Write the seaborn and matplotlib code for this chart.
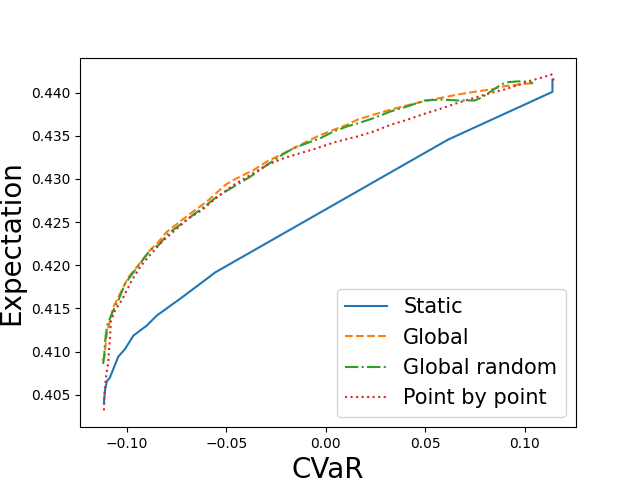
import numpy as np
import pandas as pd
import matplotlib
matplotlib.use("Agg")
import matplotlib.pyplot as plt
import seaborn as sns

# ---- data ----
static_x = [-0.1114, -0.1109, -0.1100, -0.1084, -0.1067, -0.1042, -0.1008, -0.0966,
            -0.0899, -0.0848, -0.0731, -0.0630, -0.0554, 0.0613, 0.1139, 0.1139]
static_y = [0.40410, 0.40547, 0.40655, 0.40701, 0.40799, 0.40942, 0.41031, 0.41186,
            0.41302, 0.41419, 0.41613, 0.41787, 0.41919, 0.43453, 0.44008, 0.44151]

global_x = [-0.1121, -0.1112, -0.1100, -0.1067, -0.1033, -0.0991, -0.0941, -0.0891,
            -0.0840, -0.0798, -0.0722, -0.0655, -0.0588, -0.0504, -0.0462, -0.0361,
            -0.0294, -0.0210, -0.0126, -0.0042, 0.0042, 0.0109, 0.0160, 0.0243,
            0.0328, 0.0412, 0.0495, 0.0580, 0.0664, 0.0747, 0.0832, 0.0899,
            0.0949, 0.0999, 0.1033]
global_y = [0.40895, 0.40934, 0.41206, 0.41515, 0.41671, 0.41864, 0.42000, 0.42155,
            0.42271, 0.42388, 0.42524, 0.42640, 0.42756, 0.42931, 0.42989, 0.43105,
            0.43202, 0.43299, 0.43396, 0.43492, 0.43570, 0.43628, 0.43687, 0.43745,
            0.43803, 0.43853, 0.43899, 0.43939, 0.43977, 0.44009, 0.44036, 0.44074,
            0.44086, 0.44102, 0.44105]

grand_x = [-0.1118, -0.1112, -0.1109, -0.1104, -0.1095, -0.1067, -0.1042, -0.1008,
           -0.0958, -0.0907, -0.0882, -0.0840, -0.0790, -0.0722, -0.0655, -0.0588,
           -0.0546, -0.0462, -0.0378, -0.0294, -0.0218, -0.0160, -0.0092, -0.0025,
           0.0042, 0.0109, 0.0168, 0.0243, 0.0328, 0.0412, 0.0495, 0.0580,
           0.0664, 0.0747, 0.0781, 0.0832, 0.0882, 0.0916, 0.0983, 0.1025, 0.1042]
grand_y = [0.40857, 0.40973, 0.41090, 0.41206, 0.41322, 0.41477, 0.41593, 0.41787,
           0.41942, 0.42097, 0.42175, 0.42233, 0.42369, 0.42485, 0.42602, 0.42718,
           0.42795, 0.42911, 0.43027, 0.43163, 0.43280, 0.43357, 0.43416, 0.43474,
           0.43551, 0.43609, 0.43648, 0.43706, 0.43783, 0.43841, 0.43908, 0.43919,
           0.43908, 0.43908, 0.43939, 0.44016, 0.44094, 0.44120, 0.44132, 0.44120, 0.44105]

pbp_x = [-0.1114, -0.1112, -0.1109, -0.1105, -0.1100, -0.1092, -0.1089, -0.1084,
         -0.1080, -0.1058, -0.1025, -0.0974, -0.0932, -0.0891, -0.0823, -0.0756,
         -0.0689, -0.0621, -0.0563, -0.0462, -0.0378, -0.0294, -0.0210, -0.0126,
         -0.0042, 0.0042, 0.0160, 0.0243, 0.0328, 0.0412, 0.0495, 0.0580,
         0.0664, 0.0747, 0.0832, 0.0899, 0.0966, 0.1033, 0.1084, 0.1134, 0.1144, 0.1139]
pbp_y = [0.40320, 0.40469, 0.40585, 0.40683, 0.40759, 0.40876, 0.41012, 0.41128,
         0.41341, 0.41477, 0.41593, 0.41826, 0.41981, 0.42097, 0.42271, 0.42407,
         0.42543, 0.42640, 0.42756, 0.42931, 0.43047, 0.43163, 0.43241, 0.43299,
         0.43357, 0.43423, 0.43492, 0.43551, 0.43628, 0.43687, 0.43753, 0.43815,
         0.43881, 0.43939, 0.43997, 0.44036, 0.44086, 0.44140, 0.44172, 0.44210, 0.44151, 0.44105]

series = [("Static", static_x, static_y, "-"),
          ("Global", global_x, global_y, "--"),
          ("Global random", grand_x, grand_y, "-."),
          ("Point by point", pbp_x, pbp_y, ":")]

fig, ax = plt.subplots(figsize=(6.4, 4.8), dpi=100)
palette = sns.color_palette("tab10")
for i, (name, xs, ys, ls) in enumerate(series):
    df = pd.DataFrame({"CVaR": xs, "Expectation": ys})
    sns.lineplot(data=df, x="CVaR", y="Expectation", sort=False, estimator=None,
                 ax=ax, color=palette[i], linestyle=ls, linewidth=1.5, label=name)

ax.set_xlabel("CVaR", fontsize=20)
ax.set_ylabel("Expectation", fontsize=20)
ax.legend(loc="lower right", fontsize=15)
fig.savefig("out.png", dpi=100)
